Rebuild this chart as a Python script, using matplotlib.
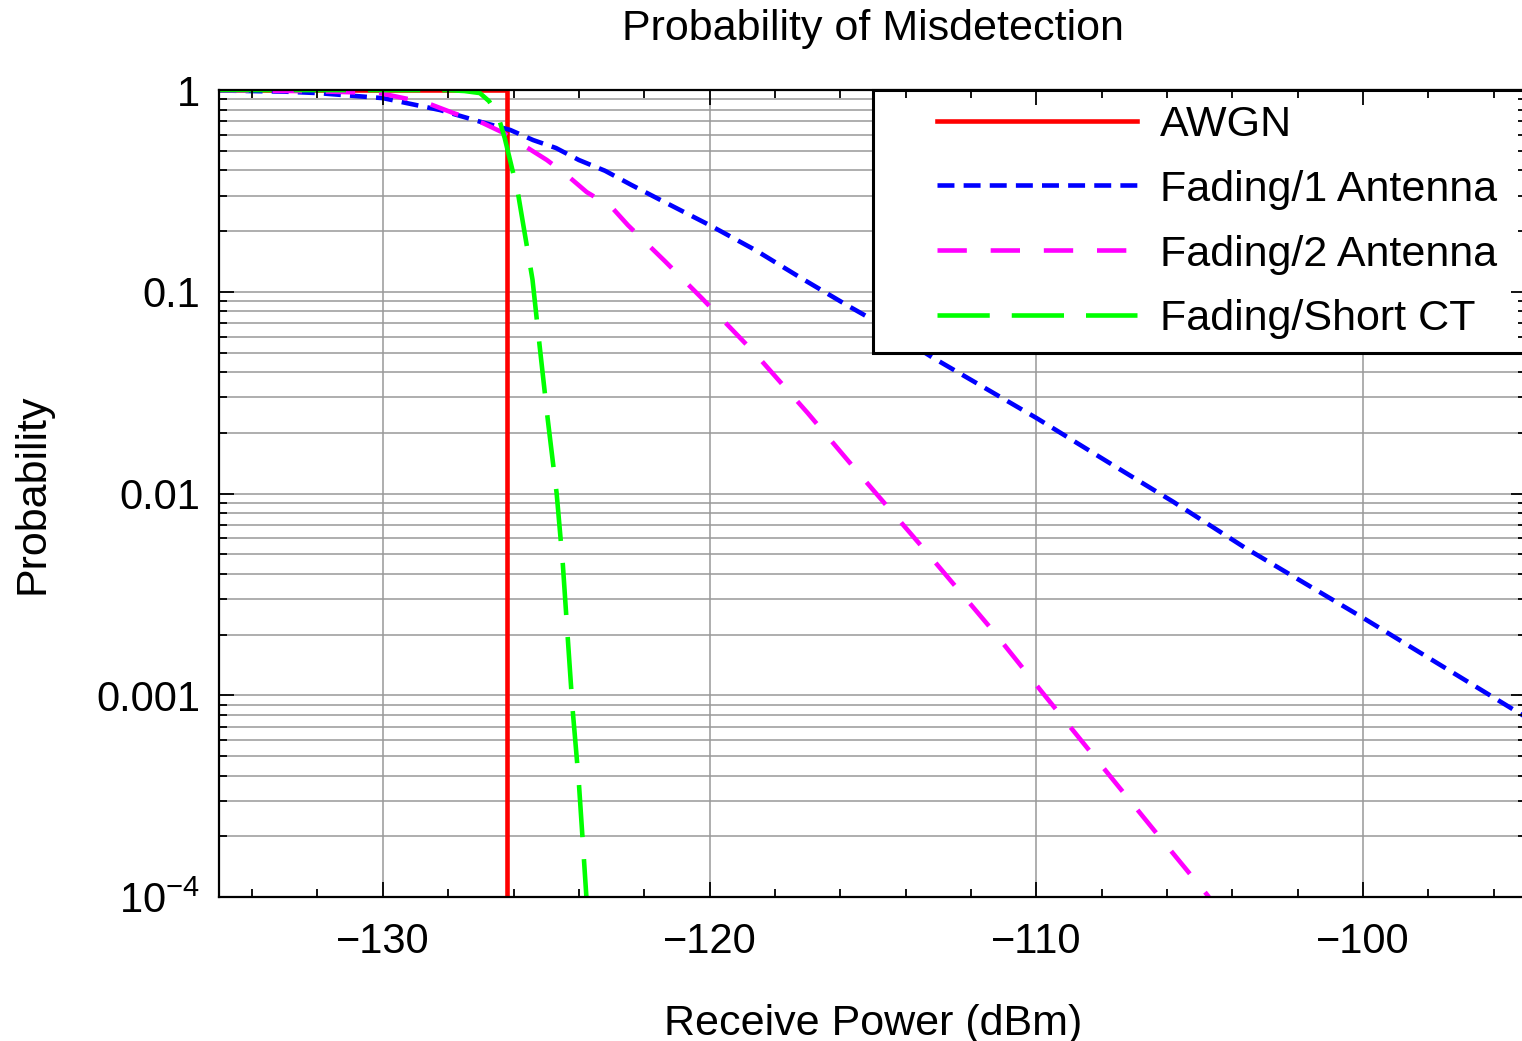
import matplotlib.pyplot as plt
from matplotlib.patches import Rectangle
from matplotlib.ticker import FixedLocator, NullFormatter

plt.rcParams["font.family"] = ["Liberation Sans", "DejaVu Sans"]
plt.rcParams["mathtext.fontset"] = "custom"
plt.rcParams["mathtext.rm"] = "Liberation Sans"
plt.rcParams["mathtext.it"] = "Liberation Sans:italic"

# values (receive power in dBm, probability)
awgn_x = [-135, -126.2, -126.2]
awgn_y = [1.0, 1.0, 1e-5]

fade1_x = [-135, -133, -132, -130, -128.25, -127.0, -126.1, -125.4, -124.7, -124.0,
           -123.2, -122.4, -121.5, -120, -118.6, -117.2, -115.8, -115.1, -113.2,
           -110, -107.8, -105.8, -103.6, -100, -95]
fade1_y = [0.995, 0.982, 0.966, 0.912, 0.796, 0.695, 0.634, 0.565, 0.516, 0.450,
           0.398, 0.339, 0.285, 0.214, 0.161, 0.117, 0.0859, 0.0741, 0.0475,
           0.0237, 0.0143, 0.00908, 0.00537, 0.00242, 0.000776]

fade2_x = [-135, -132, -130.1, -128.65, -127.85, -126.94, -126.36, -125.7, -124.98,
           -124.37, -123.76, -123.0, -122.5, -121.37, -120.24, -118.62, -117.0,
           -115.47, -113.36, -111.34, -109.81, -107.82, -106.32, -104.76, -104.5]
fade2_y = [0.998, 0.986, 0.966, 0.863, 0.77, 0.686, 0.619, 0.533, 0.450,
           0.379, 0.312, 0.263, 0.214, 0.142, 0.0931, 0.0497, 0.0251,
           0.0128, 0.00513, 0.00210, 0.00103, 0.000412, 0.000207, 0.000102, 0.0000891]

short_x = [-135, -128, -127.5, -127.03, -126.75, -126.48, -126.27, -125.87, -125.42,
           -125.2, -124.95, -124.68, -124.49, -124.34, -124.19, -124.0, -123.85, -123.75]
short_y = [1.0, 0.999, 0.989, 0.966, 0.881, 0.752, 0.578, 0.312, 0.115,
           0.0537, 0.0231, 0.01, 0.00443, 0.00192, 0.000845, 0.000367, 0.000158, 0.0000891]

labels = ["AWGN", "Fading/1 Antenna", "Fading/2 Antenna", "Fading/Short CT"]

x_major = [-130, -120, -110, -100]
x_major_labels = ["\u2212130", "\u2212120", "\u2212110", "\u2212100"]
y_major = [1e-4, 1e-3, 1e-2, 1e-1, 1]
y_major_labels = ["$10^{\u22124}$", "0.001", "0.01", "0.1", "1"]

fig = plt.figure(figsize=(15.22, 10.41), dpi=100)
ax = fig.add_axes([0.1442, 0.1383, 0.8587, 0.7752])
ax.set_yscale("log")
ax.set_xlim(-135, -95)
ax.set_ylim(1e-4, 1)

# grid drawn by hand so the tick marks can sit above the legend box
y_minor = [m * 10.0 ** e for e in range(-4, 0) for m in range(2, 10)]
for y in y_major + y_minor:
    ax.axhline(y, color="#999999", lw=1.1, zorder=1)
for x in x_major:
    ax.axvline(x, color="#999999", lw=1.1, zorder=1)

lw = 3.3
ax.plot(awgn_x, awgn_y, color="#ff0000", lw=lw, label=labels[0], zorder=2)
ax.plot(fade1_x, fade1_y, color="#0000ff", lw=lw, dashes=(3.7, 2.0), label=labels[1], zorder=2)
ax.plot(fade2_x, fade2_y, color="#ff00ff", lw=lw, dashes=(6.4, 5.2), label=labels[2], zorder=2)
ax.plot(short_x, short_y, color="#00ff00", lw=lw, dashes=(11.4, 4.8), label=labels[3], zorder=2)

ax.set_xticks(x_major)
ax.set_xticklabels(x_major_labels)
ax.xaxis.set_minor_locator(FixedLocator(list(range(-134, -94, 2))))
ax.set_yticks(y_major)
ax.set_yticklabels(y_major_labels)
ax.yaxis.set_minor_locator(FixedLocator(y_minor))
ax.yaxis.set_minor_formatter(NullFormatter())

ax.set_axisbelow(False)
ax.tick_params(which="both", direction="in", top=True, right=True, width=1.3, colors="black")
ax.tick_params(which="major", length=11, labelsize=30)
ax.tick_params(axis="y", which="major", pad=14)
ax.tick_params(axis="x", which="major", pad=18)
ax.tick_params(which="minor", length=6)
for s in ax.spines.values():
    s.set_linewidth(1.6)

ax.set_xlabel("Receive Power (dBm)", fontsize=31, labelpad=30)
ax.set_ylabel("Probability", fontsize=31, labelpad=31)
ax.set_title("Probability of Misdetection", fontsize=31, pad=36)

box = Rectangle((0.5, 0.674), 0.6, 0.326, transform=ax.transAxes, facecolor="white",
                edgecolor="black", lw=2.2, zorder=2.2, clip_on=False)
ax.add_patch(box)
leg = ax.legend(loc="upper left", bbox_to_anchor=(0.549, 0.982), frameon=False,
                borderpad=0, borderaxespad=0, handlelength=4.65, handletextpad=0.53,
                labelspacing=0.58, fontsize=31)
leg.set_zorder(2.3)

fig.savefig("out.png", dpi=100)
